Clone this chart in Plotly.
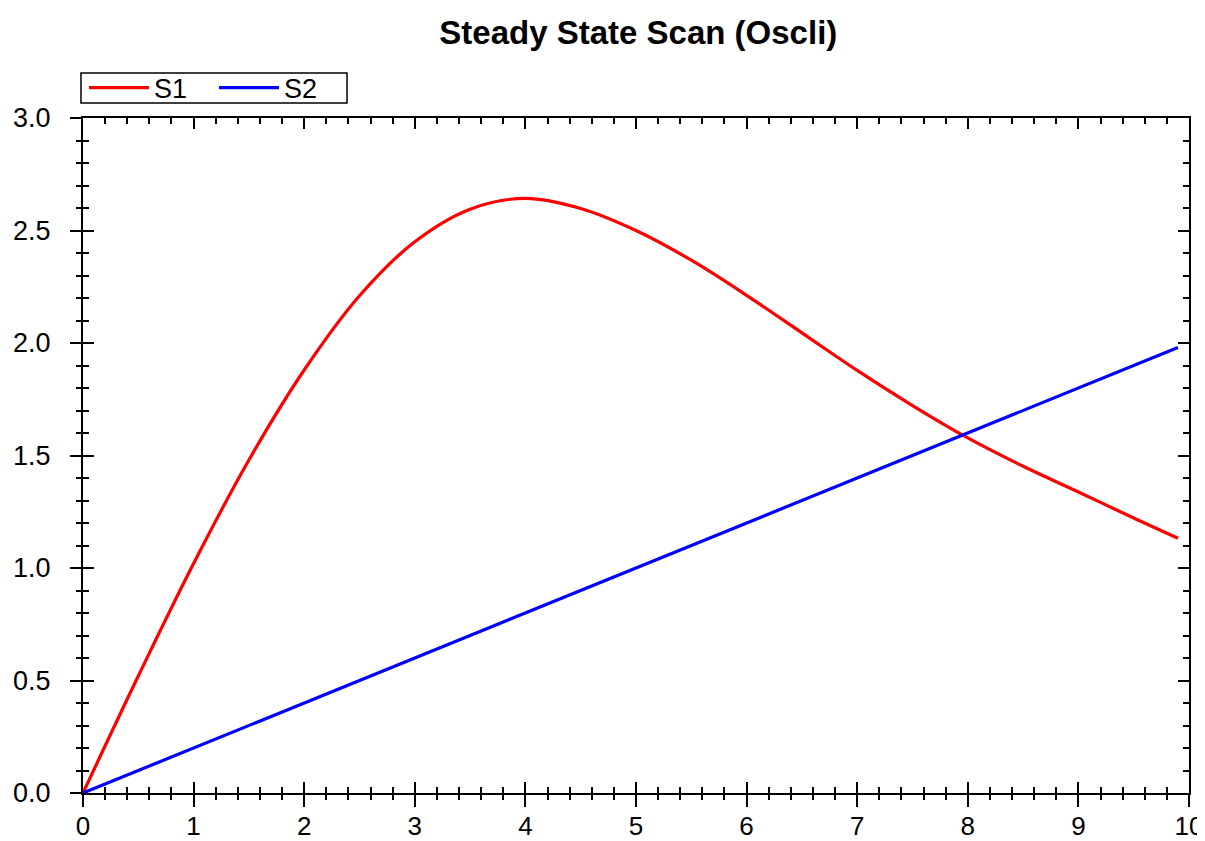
import plotly.graph_objects as go

# Data
s1_x = [0, 0.5, 1.0, 1.5, 2.0, 2.5, 3.0, 3.5, 4.0, 4.5, 5.0, 5.5, 6.0, 6.5, 7.0, 7.5, 8.0, 8.5, 9.0, 9.5, 9.9]
s1_y = [0, 0.52, 1.02, 1.48, 1.88, 2.21, 2.45, 2.595, 2.643, 2.598, 2.50, 2.368, 2.212, 2.045, 1.878, 1.722, 1.578, 1.452, 1.338, 1.222, 1.132]
s2_x = [0, 1, 2, 3, 4, 5, 6, 7, 8, 9, 9.9]
s2_y = [0, 0.2, 0.4, 0.6, 0.8, 1.0, 1.2, 1.4, 1.6, 1.8, 1.98]

x_range = [0, 10]
y_range = [0, 3]
x_ticks = [0, 1, 2, 3, 4, 5, 6, 7, 8, 9, 10]
y_ticks = [0.0, 0.5, 1.0, 1.5, 2.0, 2.5, 3.0]
y_ticktext = ["0.0", "0.5", "1.0", "1.5", "2.0", "2.5", "3.0"]

FONT = "Liberation Sans, Arial, sans-serif"

# layout geometry (page has an 8px body margin)
OFF = 8
W, H = 1205 - OFF, 841 - OFF
ML, MR, MT, MB = 83 - OFF, 16, 118 - OFF, 48
PW, PH = W - ML - MR, H - MT - MB


def px_x(p):
    return (p - OFF - ML) / PW


def px_y(p):
    return (H - MB - (p - OFF)) / PH


fig = go.Figure()
fig.add_trace(go.Scatter(x=s1_x, y=s1_y, name="S1", mode="lines",
                         line=dict(color="#ff0000", width=3.2, shape="spline", smoothing=1.0),
                         xaxis="x", yaxis="y"))
fig.add_trace(go.Scatter(x=s2_x, y=s2_y, name="S2", mode="lines",
                         line=dict(color="#0000ff", width=3.2),
                         xaxis="x2", yaxis="y2"))

common = dict(showgrid=False, zeroline=False, linecolor="black", linewidth=2,
              tickcolor="black", tickwidth=2, automargin=False)

fig.update_layout(
    width=W, height=H,
    paper_bgcolor="white", plot_bgcolor="white",
    margin=dict(l=ML, r=MR, t=MT, b=MB, autoexpand=False),
    font=dict(family=FONT, size=27, color="black"),
    title=dict(text="<b>Steady State Scan (Oscli)</b>", x=px_x(609) * PW / W + ML / W,
               xref="paper", xanchor="center",
               y=1 - (32 - OFF) / H, yanchor="middle",
               font=dict(family=FONT, size=33, color="black")),
    showlegend=True,
    legend=dict(orientation="h", x=px_x(84), xanchor="left", y=px_y(88), yanchor="middle",
                borderwidth=0, bgcolor="rgba(0,0,0,0)",
                font=dict(family=FONT, size=27, color="black"),
                itemwidth=60, entrywidth=55, tracegroupgap=0),
    shapes=[dict(type="rect", xref="paper", yref="paper",
                 x0=px_x(81), x1=px_x(347), y0=px_y(103), y1=px_y(73),
                 line=dict(color="black", width=1.5), fillcolor="rgba(0,0,0,0)", layer="above")],
    xaxis=dict(range=x_range, tickmode="array", tickvals=x_ticks,
               ticks="outside", ticklen=12, showline=True, mirror=False,
               minor=dict(ticks="outside", ticklen=5, dtick=0.2, tickcolor="black", tickwidth=2),
               tickfont=dict(family=FONT, size=26, color="black"), anchor="y",
               ticklabelstandoff=-3, **common),
    yaxis=dict(range=y_range, tickmode="array", tickvals=y_ticks, ticktext=y_ticktext,
               ticks="outside", ticklen=11, showline=True, mirror=False,
               minor=dict(ticks="outside", ticklen=5, dtick=0.1, tickcolor="black", tickwidth=2),
               tickfont=dict(family=FONT, size=27, color="black"), anchor="x",
               ticklabelstandoff=14, **common),
    xaxis2=dict(range=x_range, overlaying="x", anchor="y2", tickmode="array", tickvals=x_ticks,
                ticks="inside", ticklen=11, showline=True, mirror="ticks", showticklabels=False,
                minor=dict(ticks="inside", ticklen=6, dtick=0.2, tickcolor="black", tickwidth=2),
                **common),
    yaxis2=dict(range=y_range, overlaying="y", anchor="x2", tickmode="array", tickvals=y_ticks,
                ticks="inside", ticklen=11, showline=True, mirror="ticks", showticklabels=False,
                minor=dict(ticks="inside", ticklen=6, dtick=0.1, tickcolor="black", tickwidth=2),
                **common),
)

fig.write_html("out.html")
